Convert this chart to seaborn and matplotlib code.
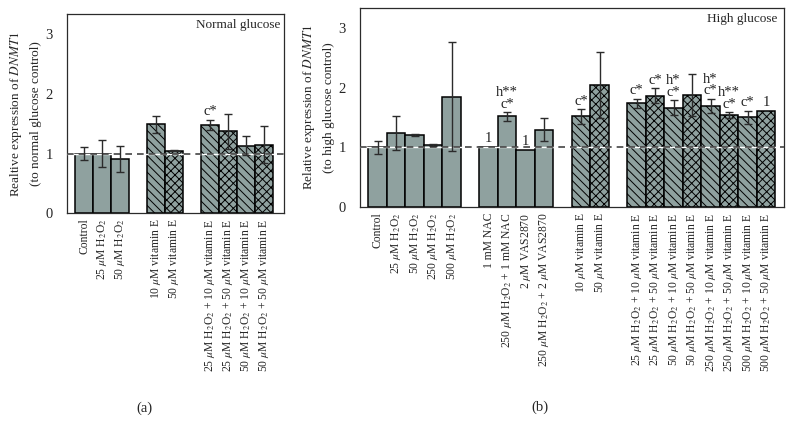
import matplotlib
matplotlib.use("Agg")
import matplotlib.pyplot as plt
import seaborn as sns
import pandas as pd

# ---------------- data ----------------
a_labels = [
    "Control",
    "25 $\\mu$M H$_2$O$_2$",
    "50 $\\mu$M H$_2$O$_2$",
    "10 $\\mu$M vitamin E",
    "50 $\\mu$M vitamin E",
    "25 $\\mu$M H$_2$O$_2$ + 10 $\\mu$M vitamin E",
    "25 $\\mu$M H$_2$O$_2$ + 50 $\\mu$M vitamin E",
    "50 $\\mu$M H$_2$O$_2$ + 10 $\\mu$M vitamin E",
    "50 $\\mu$M H$_2$O$_2$ + 50 $\\mu$M vitamin E",
]
a_values = [1.00, 1.00, 0.91, 1.49, 1.05, 1.48, 1.37, 1.13, 1.15]
a_errors = [0.11, 0.23, 0.22, 0.14, 0.01, 0.09, 0.30, 0.16, 0.31]
a_groups = [0, 0, 0, 1, 1, 2, 2, 2, 2]
a_annot = ["", "", "", "", "", "c*", "", "", ""]

b_labels = [
    "Control",
    "25 $\\mu$M H$_2$O$_2$",
    "50 $\\mu$M H$_2$O$_2$",
    "250 $\\mu$M H$_2$O$_2$",
    "500 $\\mu$M H$_2$O$_2$",
    "1 mM NAC",
    "250 $\\mu$M H$_2$O$_2$ + 1 mM NAC",
    "2 $\\mu$M VAS2870",
    "250 $\\mu$M H$_2$O$_2$ + 2 $\\mu$M VAS2870",
    "10 $\\mu$M vitamin E",
    "50 $\\mu$M vitamin E",
    "25 $\\mu$M H$_2$O$_2$ + 10 $\\mu$M vitamin E",
    "25 $\\mu$M H$_2$O$_2$ + 50 $\\mu$M vitamin E",
    "50 $\\mu$M H$_2$O$_2$ + 10 $\\mu$M vitamin E",
    "50 $\\mu$M H$_2$O$_2$ + 50 $\\mu$M vitamin E",
    "250 $\\mu$M H$_2$O$_2$ + 10 $\\mu$M vitamin E",
    "250 $\\mu$M H$_2$O$_2$ + 50 $\\mu$M vitamin E",
    "500 $\\mu$M H$_2$O$_2$ + 10 $\\mu$M vitamin E",
    "500 $\\mu$M H$_2$O$_2$ + 50 $\\mu$M vitamin E",
]
b_values = [1.00, 1.24, 1.21, 1.045, 1.855, 1.01, 1.52, 0.955, 1.30,
            1.52, 2.05, 1.74, 1.87, 1.67, 1.88, 1.69, 1.54, 1.51, 1.62]
b_errors = [0.11, 0.28, 0.01, 0.02, 0.92, 0.0, 0.07, 0.0, 0.19,
            0.12, 0.56, 0.07, 0.12, 0.12, 0.35, 0.12, 0.05, 0.11, 0.0]
b_groups = [0, 0, 0, 0, 0, 1, 1, 1, 1, 2, 2, 3, 3, 3, 3, 3, 3, 3, 3]
b_annot = ["", "", "", "", "", "1", "h**\nc*", "1", "", "c*", "",
           "c*", "c*", "h*\nc*", "", "h*\nc*", "h**\nc*", "c*", "1"]

# ---------------- style ----------------
sns.set_theme(style="white")
plt.rcParams["font.family"] = ["Liberation Serif", "DejaVu Serif"]
plt.rcParams["mathtext.fontset"] = "stix"
plt.rcParams["hatch.linewidth"] = 0.7

BAR = "#8fa19f"
DARK = "#2b2b2b"

fig = plt.figure(figsize=(7.92, 4.34), dpi=100)
ax_a = fig.add_axes([0.0846, 0.509, 0.274, 0.4585])
ax_b = fig.add_axes([0.4545, 0.523, 0.535, 0.4585])


def build_order(labels, groups):
    order = []
    gap = 0
    for i, (lab, g) in enumerate(zip(labels, groups)):
        if i > 0 and g != groups[i - 1]:
            gap += 1
            order.append(" " * gap)
        order.append(lab)
    return order


def panel(ax, labels, values, errors, groups, annots, title, ylabel, xlim):
    order = build_order(labels, groups)
    df = pd.DataFrame({"label": labels, "value": values})
    sns.barplot(data=df, x="label", y="value", order=order, color=BAR,
                saturation=1, width=1.0, edgecolor="black", linewidth=1.1,
                errorbar=None, ax=ax, zorder=2)
    # hatches by bar centre
    for p in ax.patches:
        xc = p.get_x() + p.get_width() / 2
        idx = int(round(xc))
        lab = order[idx]
        if lab.endswith("10 $\\mu$M vitamin E"):
            p.set_hatch("\\\\\\\\")
        elif lab.endswith("50 $\\mu$M vitamin E"):
            p.set_hatch("xxxx")
    ax.axhline(1, color="white", lw=1.0, zorder=3)
    ax.axhline(1, color="#444444", lw=1.2, ls=(0, (4, 3)), zorder=4)
    for lab, v, e, an in zip(labels, values, errors, annots):
        x = order.index(lab)
        if e > 0:
            ax.errorbar(x, v, yerr=e, fmt="none", ecolor=DARK, elinewidth=1.0,
                        capsize=3, capthick=1.0, zorder=5)
        if an:
            ax.text(x, v + e + 0.03, an, ha="center", va="bottom",
                    fontsize=10.5, linespacing=0.85, color="#222222")
    ax.set_xlim(*xlim)
    ax.set_ylim(0, 3.34)
    ax.set_yticks([0, 1, 2, 3])
    ax.set_xlabel("")
    ax.set_ylabel(ylabel, fontsize=9.5, linespacing=1.6, labelpad=3)
    ax.tick_params(axis="y", direction="out", length=6, width=0.8,
                   color=DARK, labelsize=10.5, pad=4)
    ax.tick_params(axis="x", length=0, labelsize=8.4, pad=4)
    ax.set_xticks(range(len(order)))
    ax.set_xticklabels(order, rotation=90, ha="center", va="top")
    for s in ax.spines.values():
        s.set_visible(True)
        s.set_color(DARK)
        s.set_linewidth(0.9)
    ax.text(0.985, 0.975, title, transform=ax.transAxes, ha="right",
            va="top", fontsize=9.5)


panel(ax_a, a_labels, a_values, a_errors, a_groups, a_annot,
      "Normal glucose",
      "Realtive expression of $\\mathit{DNMT1}$\n(to normal glucose control)",
      (-0.95, 11.1))
panel(ax_b, b_labels, b_values, b_errors, b_groups, b_annot,
      "High glucose",
      "Relative expression of $\\mathit{DNMT1}$\n(to high glucose control)",
      (-0.95, 21.95))

fig.text(144 / 792, 1 - 408 / 434, "(a)", ha="center", va="center", fontsize=10.5)
fig.text(540 / 792, 1 - 407 / 434, "(b)", ha="center", va="center", fontsize=10.5)

fig.savefig("out.png", dpi=100)
